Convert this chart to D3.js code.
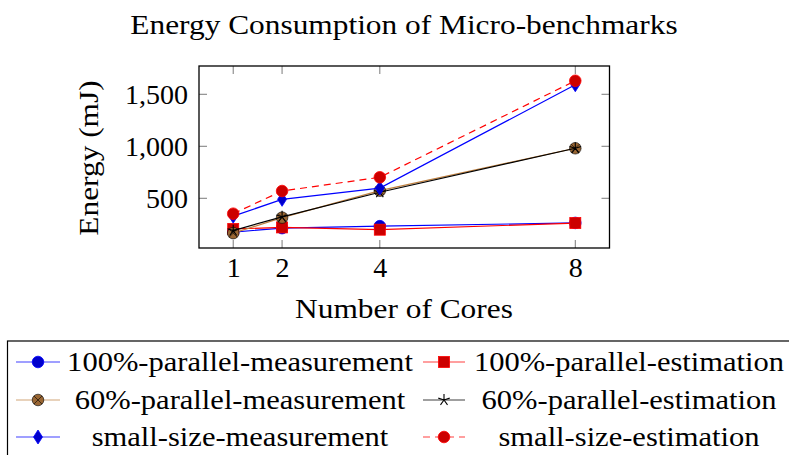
<!DOCTYPE html>
<html>
<head>
<meta charset="utf-8">
<script src="https://cdn.jsdelivr.net/npm/d3@7"></script>
<style>
  body { margin: 0; background: #fff; }
  text { font-family: "Liberation Serif", "DejaVu Serif", serif; fill: #000; }
</style>
</head>
<body>
<svg id="chart" width="789" height="455"></svg>
<script>
// cores on the x axis
const cores = [1, 2, 4, 8];
const yTicks = [500, 1000, 1500];

// energy in mJ
const parallel100Meas = [175, 213, 232, 263];
const parallel100Est = [205, 220, 198, 262];
const parallel60Meas = [165, 314, 573, 981];
const parallel60Est = [189, 322, 558, 981];
const smallMeas = [328, 490, 598, 1592];
const smallEst = [352, 570, 702, 1630];

const seriesNames = [
  "100%-parallel-measurement", "100%-parallel-estimation",
  "60%-parallel-measurement", "60%-parallel-estimation",
  "small-size-measurement", "small-size-estimation"
];

// pgfplots default cycle look
const styles = [
  {values: parallel100Meas, line: "#0000ff", fill: "#0000cc", mark: "circle"},
  {values: parallel100Est, line: "#ff0000", fill: "#cc0000", mark: "square"},
  {values: parallel60Meas, line: "#bf8040", fill: "#996633", mark: "otimes"},
  {values: parallel60Est, line: "#000000", fill: "#000000", mark: "star"},
  {values: smallMeas, line: "#0000ff", fill: "#0000cc", mark: "diamond"},
  {values: smallEst, line: "#ff0000", fill: "#cc0000", mark: "circle", dash: "7,5"}
];

const svg = d3.select("#chart");
const box = {left: 199, right: 609.5, top: 66, bottom: 248};
const fontSize = "28px";

// the original uses Computer Modern, which runs wider than Times
function stretch(sel, widen) {
  sel.each(function() {
    const len = this.getComputedTextLength();
    d3.select(this).attr("textLength", len * widen).attr("lengthAdjust", "spacingAndGlyphs");
  });
  return sel;
}

const x = d3.scaleLinear().domain([0.3, 8.7]).range([box.left, box.right]);
const y = d3.scaleLinear().domain([22, 1772]).range([box.bottom, box.top]);

// title
svg.append("text")
  .attr("x", 404).attr("y", 34)
  .attr("text-anchor", "middle")
  .style("font-size", fontSize)
  .text("Energy Consumption of Micro-benchmarks")
  .call(stretch, 1.12);

// ticks on all four sides, inside the box
const tickG = svg.append("g").attr("stroke", "#7a7a7a").attr("stroke-width", 1);
cores.forEach(c => {
  tickG.append("line").attr("x1", x(c)).attr("x2", x(c)).attr("y1", box.bottom).attr("y2", box.bottom - 8);
  tickG.append("line").attr("x1", x(c)).attr("x2", x(c)).attr("y1", box.top).attr("y2", box.top + 8);
});
yTicks.forEach(v => {
  tickG.append("line").attr("x1", box.left).attr("x2", box.left + 8).attr("y1", y(v)).attr("y2", y(v));
  tickG.append("line").attr("x1", box.right).attr("x2", box.right - 8).attr("y1", y(v)).attr("y2", y(v));
});

// axes for the labels only
const xAxis = svg.append("g")
  .attr("transform", `translate(0,${box.bottom})`)
  .call(d3.axisBottom(x).tickValues(cores).tickSize(0).tickPadding(9).tickFormat(d3.format("d")));
xAxis.select(".domain").remove();
xAxis.selectAll("text").style("font-size", fontSize).attr("dy", "0.72em");

const yAxis = svg.append("g")
  .attr("transform", `translate(${box.left},0)`)
  .call(d3.axisLeft(y).tickValues(yTicks).tickSize(0).tickPadding(11).tickFormat(d3.format(",")));
yAxis.select(".domain").remove();
yAxis.selectAll("text").style("font-size", fontSize);

// axis titles
svg.append("text")
  .attr("x", 404).attr("y", 318)
  .attr("text-anchor", "middle")
  .style("font-size", fontSize)
  .text("Number of Cores")
  .call(stretch, 1.12);
svg.append("text")
  .attr("transform", "translate(98,158) rotate(-90)")
  .attr("text-anchor", "middle")
  .style("font-size", fontSize)
  .text("Energy (mJ)")
  .call(stretch, 1.12);

function drawMark(g, kind, cx, cy, s) {
  if (kind === "circle") {
    g.append("circle").attr("cx", cx).attr("cy", cy).attr("r", 5.8)
      .attr("fill", s.fill).attr("stroke", s.line).attr("stroke-width", 0.8);
  } else if (kind === "square") {
    g.append("rect").attr("x", cx - 5.5).attr("y", cy - 5.5).attr("width", 11).attr("height", 11)
      .attr("fill", s.fill).attr("stroke", s.line).attr("stroke-width", 0.8);
  } else if (kind === "diamond") {
    g.append("path").attr("d", `M${cx},${cy - 7}L${cx + 4.5},${cy}L${cx},${cy + 7}L${cx - 4.5},${cy}Z`)
      .attr("fill", s.fill).attr("stroke", s.line).attr("stroke-width", 0.8);
  } else if (kind === "otimes") {
    g.append("circle").attr("cx", cx).attr("cy", cy).attr("r", 5.8)
      .attr("fill", s.fill).attr("stroke", "#000").attr("stroke-width", 0.6);
    const d = 5.8 * Math.SQRT1_2;
    g.append("path").attr("d", `M${cx - d},${cy - d}L${cx + d},${cy + d}M${cx - d},${cy + d}L${cx + d},${cy - d}`)
      .attr("stroke", "#000").attr("stroke-width", 0.6);
  } else if (kind === "star") {
    let p = "";
    for (let k = 0; k < 5; k++) {
      const a = -Math.PI / 2 + k * 2 * Math.PI / 5;
      p += `M${cx},${cy}L${cx + 6 * Math.cos(a)},${cy + 6 * Math.sin(a)}`;
    }
    g.append("path").attr("d", p).attr("stroke", "#000").attr("stroke-width", 1.1);
  }
}

// series lines and marks
const line = d3.line().x((d, i) => x(cores[i])).y(d => y(d));
styles.forEach(s => {
  const g = svg.append("g");
  g.append("path")
    .datum(s.values)
    .attr("d", line)
    .attr("fill", "none")
    .attr("stroke", s.line)
    .attr("stroke-width", 1.2)
    .attr("stroke-dasharray", s.dash || null);
  s.values.forEach((v, i) => drawMark(g, s.mark, x(cores[i]), y(v), s));
});

// plot frame
svg.append("rect")
  .attr("x", box.left).attr("y", box.top)
  .attr("width", box.right - box.left).attr("height", box.bottom - box.top)
  .attr("fill", "none").attr("stroke", "#000").attr("stroke-width", 1.3);

// legend, two columns, cut off by the page edge
svg.append("rect")
  .attr("x", 7.5).attr("y", 341)
  .attr("width", 800).attr("height", 140)
  .attr("fill", "none").attr("stroke", "#000").attr("stroke-width", 1.2);

const legendCols = [{x0: 16, x1: 60, tx: 240}, {x0: 423, x1: 465, tx: 629}];
const legendRows = [362, 400, 437];
seriesNames.forEach((name, i) => {
  const col = legendCols[i % 2], row = legendRows[Math.floor(i / 2)];
  const s = styles[i];
  const g = svg.append("g");
  g.append("line")
    .attr("x1", col.x0).attr("x2", col.x1).attr("y1", row).attr("y2", row)
    .attr("stroke", s.line).attr("stroke-width", 1.2)
    .attr("stroke-opacity", s.line === "#bf8040" ? 0.7 : 0.75)
    .attr("stroke-dasharray", s.dash || null);
  drawMark(g, s.mark, (col.x0 + col.x1) / 2, row, s);
  g.append("text")
    .attr("x", col.tx).attr("y", row + 9)
    .attr("text-anchor", "middle")
    .style("font-size", fontSize)
    .text(name)
    .call(stretch, 1.09);
});
</script>
</body>
</html>
